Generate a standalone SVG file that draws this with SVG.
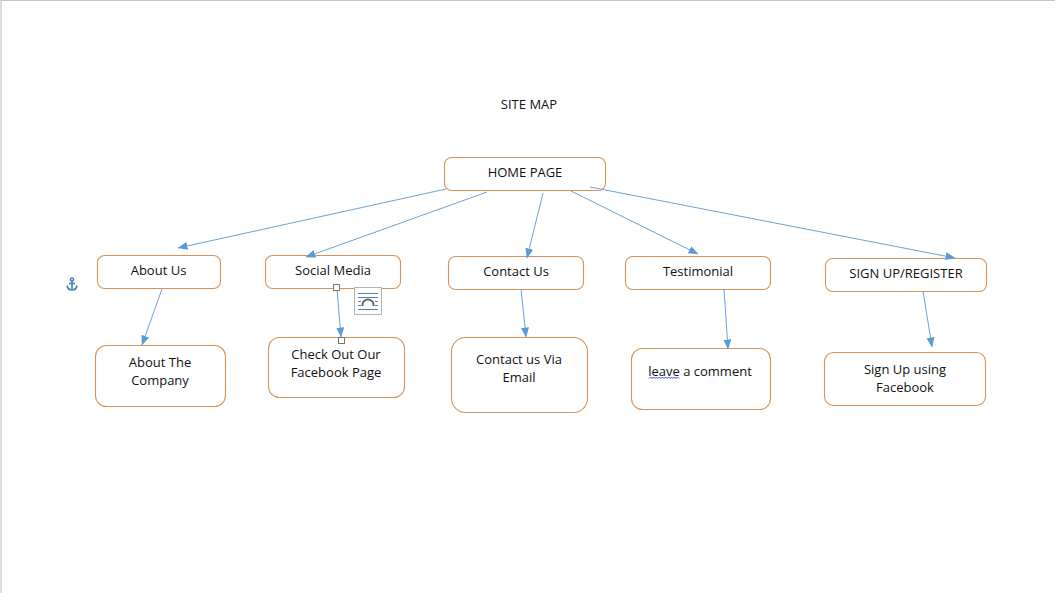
<svg xmlns="http://www.w3.org/2000/svg" width="1055" height="593" viewBox="0 0 1055 593">
<style>
.n{fill:#fff;stroke:#d9935a;stroke-width:1.1}
.t{font-family:"Open Sans","Noto Sans","Liberation Sans",sans-serif;font-size:13px;fill:#111;text-anchor:middle}
.c line{stroke:#6ba2d6;stroke-width:1;marker-end:url(#a)}
.h{fill:#fff;stroke:#777;stroke-width:1}
</style>
<defs><marker id="a" markerUnits="userSpaceOnUse" markerWidth="11" markerHeight="10" refX="9.5" refY="4" orient="auto"><path d="M0 0L10 4L0 8Z" fill="#5b9bd5"/></marker></defs>
<rect width="1055" height="593" fill="#fff"/>
<path d="M1 593V.5H1055" fill="none" stroke="#c4c4c4" stroke-width="1.2"/>
<text class="t" x="529" y="109">SITE MAP</text>
<g id="n-home"><rect class="n" x="444.5" y="157.5" width="161" height="33" rx="7"/><text class="t" x="525" y="177">HOME PAGE</text></g>
<g id="n-about"><rect class="n" x="97.5" y="255.5" width="123" height="33" rx="7"/><text class="t" x="158.500" y="275">About Us</text></g>
<g id="n-social"><rect class="n" x="265.500" y="255.500" width="135" height="33" rx="7"/><text class="t" x="333" y="275">Social Media</text></g>
<g id="n-contact"><rect class="n" x="448.500" y="256.500" width="135" height="33" rx="7"/><text class="t" x="516" y="276">Contact Us</text></g>
<g id="n-testimonial"><rect class="n" x="625.500" y="256.500" width="145" height="33" rx="7"/><text class="t" x="698" y="276">Testimonial</text></g>
<g id="n-signup"><rect class="n" x="825.500" y="258.500" width="161" height="33" rx="7"/><text class="t" x="906" y="278">SIGN UP/REGISTER</text></g>
<g id="n-company"><rect class="n" x="95.500" y="345.500" width="130" height="61" rx="11"/><text class="t" x="160" y="367">About The</text><text class="t" x="160" y="385">Company</text></g>
<g id="n-facebook"><rect class="n" x="268.500" y="337.500" width="136" height="60" rx="11"/><text class="t" x="336" y="359">Check Out Our</text><text class="t" x="336" y="377">Facebook Page</text></g>
<g id="n-email"><rect class="n" x="451.500" y="337.500" width="136" height="75" rx="14"/><text class="t" x="519" y="364">Contact us Via</text><text class="t" x="519" y="382">Email</text></g>
<g id="n-comment"><rect class="n" x="631.500" y="348.500" width="139" height="61" rx="11"/><text class="t" x="700" y="376">leave a comment</text><path d="M649 378.500l1.500-1.500 1.500 1.500 1.500-1.500 1.500 1.500 1.500-1.500 1.500 1.500 1.500-1.500 1.500 1.500 1.500-1.500 1.500 1.500 1.500-1.500 1.500 1.500 1.500-1.500 1.500 1.500 1.500-1.500 1.500 1.500 1.500-1.500 1.500 1.500 1.500-1.500 1.500 1.500" fill="none" stroke="#2f2fe0" stroke-width=".9"/></g>
<g id="n-fb-signup"><rect class="n" x="824.500" y="352.500" width="161" height="53" rx="9"/><text class="t" x="905" y="374">Sign Up using</text><text class="t" x="905" y="392">Facebook</text></g>
<g id="connectors" class="c">
<line x1="446" y1="189" x2="178" y2="248"/>
<line x1="487" y1="192" x2="306" y2="257"/>
<line x1="543" y1="193" x2="527" y2="258"/>
<line x1="571" y1="191" x2="698" y2="254"/>
<line x1="590" y1="187" x2="955" y2="258"/>
<line x1="162" y1="289" x2="142" y2="345"/>
<line x1="337" y1="289" x2="341" y2="337"/>
<line x1="521" y1="289" x2="526" y2="337"/>
<line x1="724" y1="289" x2="728" y2="349"/>
<line x1="923" y1="291" x2="932" y2="347"/>
</g>
<rect class="h" x="333.500" y="284.500" width="6" height="6"/>
<rect class="h" x="338.500" y="337.500" width="6" height="6"/>
<g id="layout-icon"><rect x="354.500" y="287.500" width="27" height="27" fill="#fff" stroke="#b5b5b5"/><path d="M358 293.500H378M358 297.500H378M358 301.500H361M375 301.500H378M358 305.500H361M375 305.500H378M358 309.500H378" stroke="#5a7fa8" fill="none"/><path d="M362.500 306v-1.500a5.500 5 0 0 1 11 0V306" fill="none" stroke="#666" stroke-width="2"/></g>
<g id="anchor" fill="none" stroke="#4a82b4" stroke-width="1.600"><circle cx="72" cy="279.500" r="1.500"/><path d="M72 281V290M69 283.500H75M67 285.500C67.500 288.500 70 290 72 290S76.500 288.500 77 285.500"/></g>
</svg>
